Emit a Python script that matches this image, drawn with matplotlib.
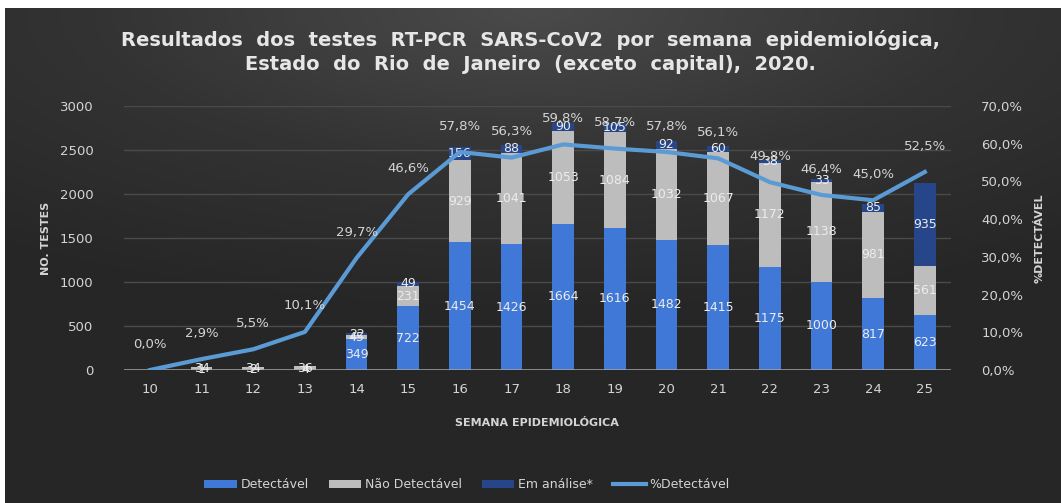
import numpy as np
import matplotlib
matplotlib.use("Agg")
import matplotlib.pyplot as plt
from matplotlib.ticker import FuncFormatter

# Dados por semana epidemiológica
semanas = ["10", "11", "12", "13", "14", "15", "16", "17", "18", "19", "20", "21", "22", "23", "24", "25"]
detectavel = [0, 1, 2, 4, 349, 722, 1454, 1426, 1664, 1616, 1482, 1415, 1175, 1000, 817, 623]
nao_detectavel = [0, 34, 34, 36, 45, 231, 929, 1041, 1053, 1084, 1032, 1067, 1172, 1138, 981, 561]
em_analise = [0, 0, 0, 0, 22, 49, 156, 88, 90, 105, 92, 60, 38, 33, 85, 935]
pct_detectavel = [0.0, 2.9, 5.5, 10.1, 29.7, 46.6, 57.8, 56.3, 59.8, 58.7, 57.8, 56.1, 49.8, 46.4, 45.0, 52.5]

C_DET = "#3f78d6"
C_NAO = "#bdbdbd"
C_EM = "#27468a"
C_LINE = "#5b9bd5"
C_TXT = "#d4d4d4"

fig = plt.figure(figsize=(10.61, 5.03), dpi=100)
fig.patch.set_facecolor("white")

# Fundo escuro com leve gradiente
bg = fig.add_axes([5 / 1061, 0, 1 - 5 / 1061, 1 - 8 / 503], zorder=0)
yy, xx = np.mgrid[0:1:200j, 0:1:400j]
dist = np.sqrt(((xx - 0.5) * 1.2) ** 2 + (yy * 1.6) ** 2)
bg.imshow(np.clip(dist, 0, 1), cmap=matplotlib.colors.LinearSegmentedColormap.from_list(
    "bg", ["#4a4a4a", "#333333", "#262626"]), aspect="auto", extent=[0, 1, 0, 1], origin="upper")
bg.axis("off")

ax = fig.add_axes([0.117, 0.2644, 0.779, 0.525], zorder=1)
ax.set_facecolor("none")
x = np.arange(len(semanas))
w = 0.42

b1 = ax.bar(x, detectavel, w, color=C_DET, label="Detectável")
b2 = ax.bar(x, nao_detectavel, w, bottom=detectavel, color=C_NAO, label="Não Detectável")
base3 = np.array(detectavel) + np.array(nao_detectavel)
b3 = ax.bar(x, em_analise, w, bottom=base3, color=C_EM, label="Em análise*")

for bars, vals in [(b1, detectavel), (b2, nao_detectavel), (b3, em_analise)]:
    ax.bar_label(bars, labels=[str(v) if v > 0 else "" for v in vals], label_type="center",
                 color="#ececec", fontsize=9)

ax.set_xlim(-0.5, len(semanas) - 0.5)
ax.set_ylim(0, 3000)
ax.set_yticks(range(0, 3001, 500))
ax.set_xticks(x)
ax.set_xticklabels(semanas)
ax.tick_params(colors=C_TXT, labelsize=9.5, length=0)
ax.tick_params(axis="y", pad=22)
ax.tick_params(axis="x", pad=9)
for s in ax.spines.values():
    s.set_visible(False)
ax.grid(axis="y", color="#4a4a4a", linewidth=1)
ax.set_axisbelow(True)
ax.axhline(0, color="#a6a6a6", linewidth=1.8, zorder=2)

ax.set_xlabel("SEMANA EPIDEMIOLÓGICA", color=C_TXT, fontsize=8, fontweight="bold", labelpad=16)
ax.set_ylabel("NO. TESTES", color=C_TXT, fontsize=8, fontweight="bold", labelpad=6)

ax2 = ax.twinx()
ax2.set_ylim(0, 70)
ax2.set_yticks(range(0, 71, 10))
ax2.yaxis.set_major_formatter(FuncFormatter(lambda v, p: f"{v:.1f}%".replace(".", ",")))
ax2.tick_params(colors=C_TXT, labelsize=9.5, length=0, pad=22)
for s in ax2.spines.values():
    s.set_visible(False)
ln, = ax2.plot(x, pct_detectavel, color=C_LINE, linewidth=3, label="%Detectável", zorder=3)
for xi, p in zip(x, pct_detectavel):
    ax2.annotate(f"{p:.1f}%".replace(".", ","), (xi, p), xytext=(0, 14), textcoords="offset points",
                 ha="center", va="bottom", color=C_TXT, fontsize=9.5)
ax2.set_ylabel("%DETECTÁVEL", color=C_TXT, fontsize=8, fontweight="bold", rotation=90, labelpad=8)

fig.text(0.5, 1 - 40 / 503, "Resultados  dos  testes  RT-PCR  SARS-CoV2  por  semana  epidemiológica,",
         ha="center", va="center", color="#e6e6e6", fontsize=14, fontweight="bold")
fig.text(0.5, 1 - 65 / 503, "Estado  do  Rio  de  Janeiro  (exceto  capital),  2020.",
         ha="center", va="center", color="#e6e6e6", fontsize=14, fontweight="bold")

leg = fig.legend(handles=[b1, b2, b3, ln], loc="center", bbox_to_anchor=(0.44, 1 - 485 / 503),
                 ncol=4, frameon=False, fontsize=9, handlelength=2.6, handleheight=0.6,
                 columnspacing=1.6, handletextpad=0.3)
for t in leg.get_texts():
    t.set_color(C_TXT)

fig.savefig("out.png", dpi=100, facecolor=fig.get_facecolor())
